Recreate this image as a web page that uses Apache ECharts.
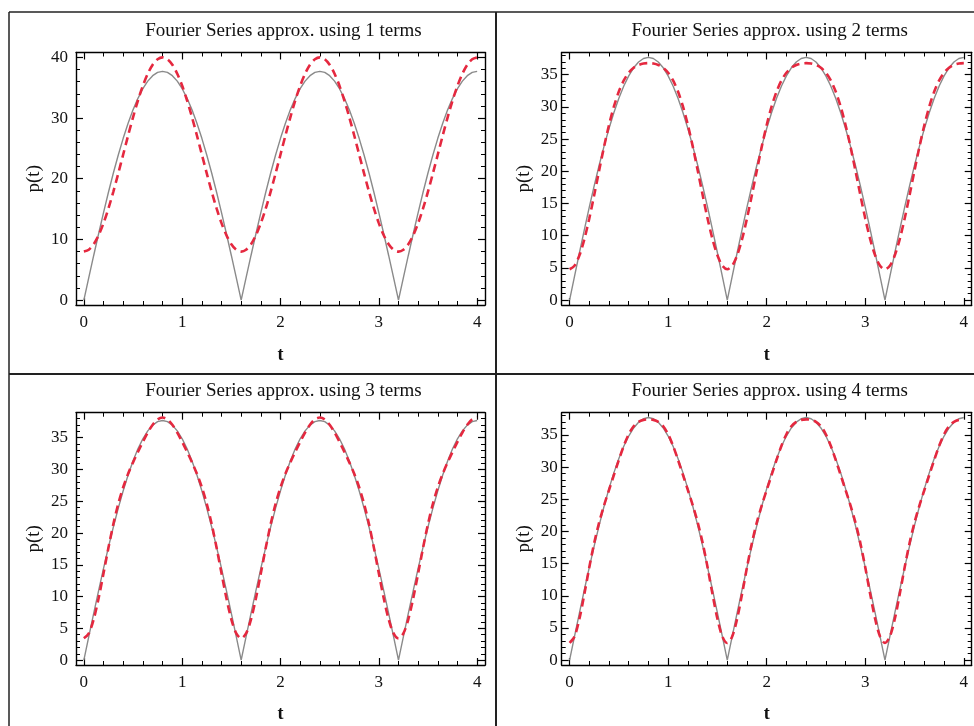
<!DOCTYPE html>
<html>
<head>
<meta charset="utf-8">
<script src="https://cdn.jsdelivr.net/npm/echarts@6/dist/echarts.min.js"></script>
<style>
html,body{margin:0;padding:0;background:#fff;}
#chart{width:974px;height:726px;}
</style>
</head>
<body>
<div id="chart"></div>
<script>
// ---------------- DATA ----------------
const titles = [
  'Fourier Series approx. using 1 terms',
  'Fourier Series approx. using 2 terms',
  'Fourier Series approx. using 3 terms',
  'Fourier Series approx. using 4 terms'
];
const xTickLabels = [0, 1, 2, 3, 4];
const xMinorTicks = [0.2,0.4,0.6,0.8,1.2,1.4,1.6,1.8,2.2,2.4,2.6,2.8,3.2,3.4,3.6,3.8];
const yTickLabels1 = [0, 10, 20, 30, 40];
const yMinorTicks1 = [2,4,6,8,12,14,16,18,22,24,26,28,32,34,36,38];
const yTickLabels2 = [0, 5, 10, 15, 20, 25, 30, 35];
const yMinorTicks2 = [1,2,3,4,6,7,8,9,11,12,13,14,16,17,18,19,21,22,23,24,26,27,28,29,31,32,33,34,36,37,38];

const tValues = [
  0.00,0.05,0.10,0.15,0.20,0.25,0.30,0.35,0.40,0.45,0.50,0.55,0.60,0.65,0.70,0.75,0.80,
  0.85,0.90,0.95,1.00,1.05,1.10,1.15,1.20,1.25,1.30,1.35,1.40,1.45,1.50,1.55,
  1.60,1.65,1.70,1.75,1.80,1.85,1.90,1.95,2.00,2.05,2.10,2.15,2.20,2.25,2.30,2.35,2.40,
  2.45,2.50,2.55,2.60,2.65,2.70,2.75,2.80,2.85,2.90,2.95,3.00,3.05,3.10,3.15,
  3.20,3.25,3.30,3.35,3.40,3.45,3.50,3.55,3.60,3.65,3.70,3.75,3.80,3.85,3.90,3.95,4.00
];

// exact signal p(t) (grey solid)
const pExact = [
  0, 3.70, 7.36, 10.94, 14.43, 17.77, 20.95, 23.92, 26.66, 29.14, 31.35, 33.25, 34.83, 36.08, 36.98, 37.52, 37.70,
  37.52, 36.98, 36.08, 34.83, 33.25, 31.35, 29.14, 26.66, 23.92, 20.95, 17.77, 14.43, 10.94, 7.36, 3.70,
  0, 3.70, 7.36, 10.94, 14.43, 17.77, 20.95, 23.92, 26.66, 29.14, 31.35, 33.25, 34.83, 36.08, 36.98, 37.52, 37.70,
  37.52, 36.98, 36.08, 34.83, 33.25, 31.35, 29.14, 26.66, 23.92, 20.95, 17.77, 14.43, 10.94, 7.36, 3.70,
  0, 3.70, 7.36, 10.94, 14.43, 17.77, 20.95, 23.92, 26.66, 29.14, 31.35, 33.25, 34.83, 36.08, 36.98, 37.52, 37.70
];

// Fourier approximations (red dashed)
const approx1 = [
  8.00, 8.31, 9.22, 10.70, 12.69, 15.11, 17.88, 20.88, 24.00, 27.12, 30.12, 32.89, 35.31, 37.30, 38.78, 39.69, 40.00,
  39.69, 38.78, 37.30, 35.31, 32.89, 30.12, 27.12, 24.00, 20.88, 17.88, 15.11, 12.69, 10.70, 9.22, 8.31,
  8.00, 8.31, 9.22, 10.70, 12.69, 15.11, 17.88, 20.88, 24.00, 27.12, 30.12, 32.89, 35.31, 37.30, 38.78, 39.69, 40.00,
  39.69, 38.78, 37.30, 35.31, 32.89, 30.12, 27.12, 24.00, 20.88, 17.88, 15.11, 12.69, 10.70, 9.22, 8.31,
  8.00, 8.31, 9.22, 10.70, 12.69, 15.11, 17.88, 20.88, 24.00, 27.12, 30.12, 32.89, 35.31, 37.30, 38.78, 39.69, 40.00
];
const approx2 = [
  4.80, 5.35, 6.96, 9.47, 12.69, 16.34, 20.14, 23.84, 27.20, 30.08, 32.39, 34.11, 35.31, 36.08, 36.52, 36.74, 36.80,
  36.74, 36.52, 36.08, 35.31, 34.11, 32.39, 30.08, 27.20, 23.84, 20.14, 16.34, 12.69, 9.47, 6.96, 5.35,
  4.80, 5.35, 6.96, 9.47, 12.69, 16.34, 20.14, 23.84, 27.20, 30.08, 32.39, 34.11, 35.31, 36.08, 36.52, 36.74, 36.80,
  36.74, 36.52, 36.08, 35.31, 34.11, 32.39, 30.08, 27.20, 23.84, 20.14, 16.34, 12.69, 9.47, 6.96, 5.35,
  4.80, 5.35, 6.96, 9.47, 12.69, 16.34, 20.14, 23.84, 27.20, 30.08, 32.39, 34.11, 35.31, 36.08, 36.52, 36.74, 36.80
];
const approx3 = [
  3.43, 4.21, 6.43, 9.74, 13.66, 17.68, 21.41, 24.60, 27.20, 29.32, 31.12, 32.77, 34.34, 35.81, 37.04, 37.88, 38.17,
  37.88, 37.04, 35.81, 34.34, 32.77, 31.12, 29.32, 27.20, 24.60, 21.41, 17.68, 13.66, 9.74, 6.43, 4.21,
  3.43, 4.21, 6.43, 9.74, 13.66, 17.68, 21.41, 24.60, 27.20, 29.32, 31.12, 32.77, 34.34, 35.81, 37.04, 37.88, 38.17,
  37.88, 37.04, 35.81, 34.34, 32.77, 31.12, 29.32, 27.20, 24.60, 21.41, 17.68, 13.66, 9.74, 6.43, 4.21,
  3.43, 4.21, 6.43, 9.74, 13.66, 17.68, 21.41, 24.60, 27.20, 29.32, 31.12, 32.77, 34.34, 35.81, 37.04, 37.88, 38.17
];
const approx4 = [
  2.67, 3.67, 6.43, 10.28, 14.42, 18.22, 21.41, 24.06, 26.44, 28.78, 31.12, 33.31, 35.11, 36.35, 37.04, 37.34, 37.41,
  37.34, 37.04, 36.35, 35.11, 33.31, 31.12, 28.78, 26.44, 24.06, 21.41, 18.22, 14.42, 10.28, 6.43, 3.67,
  2.67, 3.67, 6.43, 10.28, 14.42, 18.22, 21.41, 24.06, 26.44, 28.78, 31.12, 33.31, 35.11, 36.35, 37.04, 37.34, 37.41,
  37.34, 37.04, 36.35, 35.11, 33.31, 31.12, 28.78, 26.44, 24.06, 21.41, 18.22, 14.42, 10.28, 6.43, 3.67,
  2.67, 3.67, 6.43, 10.28, 14.42, 18.22, 21.41, 24.06, 26.44, 28.78, 31.12, 33.31, 35.11, 36.35, 37.04, 37.34, 37.41
];

// ---------------- LAYOUT / STYLE ----------------
const FONT = '"Liberation Serif", "Times New Roman", serif';
const panels = [
  {title: titles[0], approx: approx1, left: 76,    top: 52.5,  width: 409, height: 252.5, yMin: -0.8,   yMax: 40.8,   yMajor: yTickLabels1, yMinor: yMinorTicks1, lblMargin: 8, nameGapY: 32, nameGapX: 41},
  {title: titles[1], approx: approx2, left: 561.7, top: 52.5,  width: 410, height: 252.5, yMin: -0.754, yMax: 38.454, yMajor: yTickLabels2, yMinor: yMinorTicks2, lblMargin: 4, nameGapY: 28, nameGapX: 41},
  {title: titles[2], approx: approx3, left: 76,    top: 412.7, width: 409, height: 252.3, yMin: -0.763, yMax: 38.933, yMajor: yTickLabels2, yMinor: yMinorTicks2, lblMargin: 8, nameGapY: 32, nameGapX: 40},
  {title: titles[3], approx: approx4, left: 561.7, top: 412.7, width: 410, height: 252.3, yMin: -0.754, yMax: 38.454, yMajor: yTickLabels2, yMinor: yMinorTicks2, lblMargin: 4, nameGapY: 28, nameGapX: 40}
];

const grids = [], xAxes = [], yAxes = [], series = [], titleArr = [];
panels.forEach((p, i) => {
  grids.push({left: p.left, top: p.top, width: p.width, height: p.height, containLabel: false, show: false});
  titleArr.push({
    text: p.title, left: p.left + p.width / 2 - 2, top: p.top - 36, textAlign: 'center',
    textStyle: {fontFamily: FONT, fontSize: 19, fontWeight: 'normal', color: '#111'}
  });
  const base = {type: 'value', gridIndex: i, splitLine: {show: false}};
  const xb = {min: -0.08, max: 4.08};
  const yb = {min: p.yMin, max: p.yMax};
  // x axes: bottom major, bottom minor, top major, top minor
  xAxes.push(Object.assign({}, base, xb, {
    position: 'bottom',
    axisLine: {show: true, onZero: false, lineStyle: {color: '#000', width: 1.4}},
    axisTick: {show: true, inside: true, length: 7, customValues: xTickLabels, lineStyle: {color: '#000', width: 1.2}},
    axisLabel: {show: true, customValues: xTickLabels, margin: 9, fontFamily: FONT, fontSize: 17, color: '#111'},
    name: 't', nameLocation: 'middle', nameGap: p.nameGapX,
    nameTextStyle: {fontFamily: FONT, fontSize: 18, fontWeight: 'bold', color: '#111'}
  }));
  xAxes.push(Object.assign({}, base, xb, {
    position: 'bottom',
    axisLine: {show: false, onZero: false},
    axisTick: {show: true, inside: true, length: 4, customValues: xMinorTicks, lineStyle: {color: '#000', width: 1}},
    axisLabel: {show: false}
  }));
  xAxes.push(Object.assign({}, base, xb, {
    position: 'top',
    axisLine: {show: true, onZero: false, lineStyle: {color: '#000', width: 1.4}},
    axisTick: {show: true, inside: true, length: 7, customValues: xTickLabels, lineStyle: {color: '#000', width: 1.2}},
    axisLabel: {show: false}
  }));
  xAxes.push(Object.assign({}, base, xb, {
    position: 'top',
    axisLine: {show: false, onZero: false},
    axisTick: {show: true, inside: true, length: 4, customValues: xMinorTicks, lineStyle: {color: '#000', width: 1}},
    axisLabel: {show: false}
  }));
  // y axes: left major, left minor, right major, right minor
  yAxes.push(Object.assign({}, base, yb, {
    position: 'left',
    axisLine: {show: true, onZero: false, lineStyle: {color: '#000', width: 1.4}},
    axisTick: {show: true, inside: true, length: 7, customValues: p.yMajor, lineStyle: {color: '#000', width: 1.2}},
    axisLabel: {show: true, customValues: p.yMajor, margin: p.lblMargin, fontFamily: FONT, fontSize: 17, color: '#111'},
    name: 'p(t)', nameLocation: 'middle', nameGap: p.nameGapY,
    nameTextStyle: {fontFamily: FONT, fontSize: 19, color: '#111'}
  }));
  yAxes.push(Object.assign({}, base, yb, {
    position: 'left',
    axisLine: {show: false, onZero: false},
    axisTick: {show: true, inside: true, length: 4, customValues: p.yMinor, lineStyle: {color: '#000', width: 1}},
    axisLabel: {show: false}
  }));
  yAxes.push(Object.assign({}, base, yb, {
    position: 'right',
    axisLine: {show: true, onZero: false, lineStyle: {color: '#000', width: 1.4}},
    axisTick: {show: true, inside: true, length: 7, customValues: p.yMajor, lineStyle: {color: '#000', width: 1.2}},
    axisLabel: {show: false}
  }));
  yAxes.push(Object.assign({}, base, yb, {
    position: 'right',
    axisLine: {show: false, onZero: false},
    axisTick: {show: true, inside: true, length: 4, customValues: p.yMinor, lineStyle: {color: '#000', width: 1}},
    axisLabel: {show: false}
  }));
  series.push({
    type: 'line', xAxisIndex: 4 * i, yAxisIndex: 4 * i, showSymbol: false, silent: true,
    data: tValues.map((t, k) => [t, pExact[k]]),
    lineStyle: {color: '#8a8a8a', width: 1.4}, z: 2
  });
  series.push({
    type: 'line', xAxisIndex: 4 * i, yAxisIndex: 4 * i, showSymbol: false, silent: true, smooth: 0.3,
    data: tValues.map((t, k) => [t, p.approx[k]]),
    lineStyle: {color: '#e5283f', width: 2.6, type: [8, 5]}, z: 3
  });
});

const borderStyle = {stroke: '#222', lineWidth: 1.5};
const graphics = [
  {type: 'line', shape: {x1: 9, y1: 12, x2: 974, y2: 12}, style: borderStyle},
  {type: 'line', shape: {x1: 9, y1: 12, x2: 9, y2: 726}, style: borderStyle},
  {type: 'line', shape: {x1: 496, y1: 12, x2: 496, y2: 726}, style: {stroke: '#222', lineWidth: 2}},
  {type: 'line', shape: {x1: 9, y1: 374, x2: 974, y2: 374}, style: {stroke: '#222', lineWidth: 2}}
];

const chart = echarts.init(document.getElementById('chart'), null, {renderer: 'canvas'});
chart.setOption({
  animation: false,
  backgroundColor: '#fff',
  title: titleArr,
  grid: grids,
  xAxis: xAxes,
  yAxis: yAxes,
  series: series,
  graphic: graphics
});
</script>
</body>
</html>
